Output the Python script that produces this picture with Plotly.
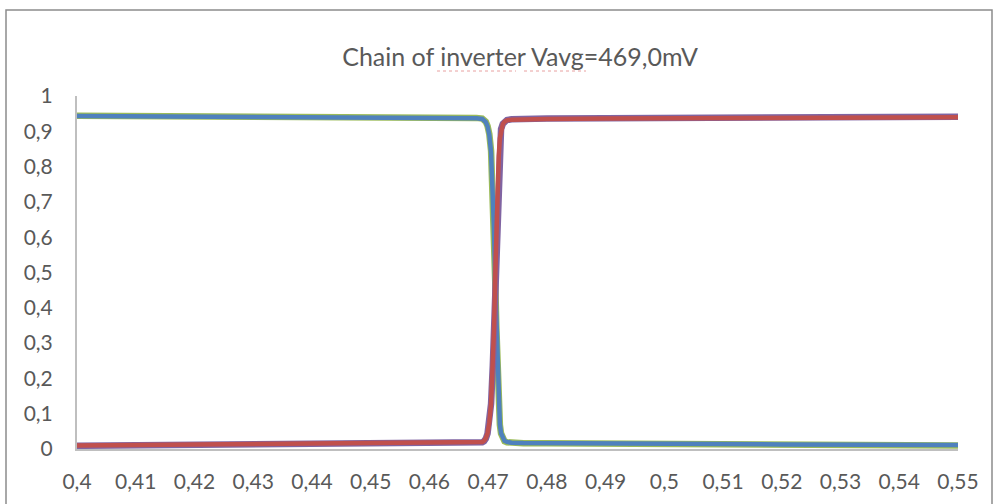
import plotly.graph_objects as go

# ---------------- data ----------------
x_vals = [0.400, 0.410, 0.420, 0.430, 0.440, 0.450, 0.460, 0.465, 0.468,
          0.4690, 0.4693, 0.4696, 0.4699, 0.4702, 0.4705, 0.4708, 0.4710,
          0.4712, 0.4714, 0.4716, 0.4718, 0.4720, 0.4722, 0.4725, 0.4728,
          0.4732, 0.4740, 0.4760, 0.480, 0.490, 0.500, 0.510, 0.520, 0.530,
          0.540, 0.550]

v_blue = [0.943, 0.9425, 0.942, 0.941, 0.940, 0.940, 0.939, 0.938, 0.937,
          0.935, 0.932, 0.926, 0.914, 0.890, 0.840, 0.720, 0.620,
          0.480, 0.350, 0.220, 0.120, 0.070, 0.045, 0.030, 0.023,
          0.020, 0.018, 0.017, 0.017, 0.016, 0.015, 0.014, 0.013, 0.013,
          0.012, 0.011]

v_green = [0.944, 0.9435, 0.943, 0.942, 0.941, 0.941, 0.940, 0.939, 0.938,
           0.936, 0.933, 0.927, 0.915, 0.892, 0.845, 0.725, 0.625,
           0.480, 0.345, 0.215, 0.118, 0.068, 0.044, 0.029, 0.022,
           0.019, 0.017, 0.016, 0.016, 0.015, 0.014, 0.013, 0.012, 0.012,
           0.011, 0.010]

v_red = [0.010, 0.011, 0.012, 0.013, 0.014, 0.015, 0.016, 0.017, 0.018,
         0.020, 0.023, 0.030, 0.045, 0.075, 0.130, 0.240, 0.340,
         0.480, 0.620, 0.740, 0.830, 0.880, 0.905, 0.920, 0.927,
         0.931, 0.933, 0.934, 0.935, 0.936, 0.937, 0.938, 0.938, 0.939,
         0.940, 0.940]

v_purple = [0.009, 0.010, 0.011, 0.012, 0.013, 0.014, 0.015, 0.016, 0.017,
            0.019, 0.022, 0.029, 0.044, 0.073, 0.128, 0.238, 0.340,
            0.480, 0.622, 0.742, 0.832, 0.882, 0.906, 0.921, 0.928,
            0.932, 0.934, 0.935, 0.936, 0.937, 0.938, 0.939, 0.939, 0.940,
            0.941, 0.941]

x_tick_vals = [0.40, 0.41, 0.42, 0.43, 0.44, 0.45, 0.46, 0.47, 0.48, 0.49,
               0.50, 0.51, 0.52, 0.53, 0.54, 0.55]
x_tick_labels = ["0,4", "0,41", "0,42", "0,43", "0,44", "0,45", "0,46", "0,47",
                 "0,48", "0,49", "0,5", "0,51", "0,52", "0,53", "0,54", "0,55"]
y_tick_vals = [0, 0.1, 0.2, 0.3, 0.4, 0.5, 0.6, 0.7, 0.8, 0.9, 1.0]
y_tick_labels = ["0", "0,1", "0,2", "0,3", "0,4", "0,5", "0,6", "0,7", "0,8", "0,9", "1"]

title_text = "Chain of inverter Vavg=469,0mV"

# ---------------- layout constants ----------------
W, H = 996, 504
ML, MR, MT, MB = 77, 38, 96, 55
PW, PH = W - ML - MR, H - MT - MB
FONT = "Lato"
TXT = "#595959"


def px_x(px):
    return (px - ML) / PW


def px_y(py):
    return (H - MB - py) / PH


fig = go.Figure()
fig.add_trace(go.Scatter(x=x_vals, y=v_green, mode="lines",
                         line=dict(color="#9BBB59", width=6.5), name="green"))
fig.add_trace(go.Scatter(x=x_vals, y=v_blue, mode="lines",
                         line=dict(color="#4F81BD", width=4.5), name="blue"))
fig.add_trace(go.Scatter(x=x_vals, y=v_purple, mode="lines",
                         line=dict(color="#8064A2", width=6.5), name="purple"))
fig.add_trace(go.Scatter(x=x_vals, y=v_red, mode="lines",
                         line=dict(color="#C0504D", width=4.5), name="red"))

shapes = [dict(type="rect", xref="paper", yref="paper",
               x0=px_x(6), x1=px_x(992), y0=px_y(520), y1=px_y(10),
               line=dict(color="#8C8C8C", width=1.5), fillcolor="rgba(0,0,0,0)",
               layer="below")]
# spell-check underlines under "inverter" and "Vavg"
for a, b in [(437, 516), (524, 586)]:
    shapes.append(dict(type="line", xref="paper", yref="paper",
                       x0=px_x(a), x1=px_x(b), y0=px_y(71), y1=px_y(71),
                       line=dict(color="#E8A0A0", width=1, dash="dot")))

fig.update_layout(
    width=W, height=H,
    margin=dict(l=ML, r=MR, t=MT, b=MB, pad=0),
    paper_bgcolor="white", plot_bgcolor="white",
    showlegend=False,
    font=dict(family=FONT, color=TXT, size=21),
    title=dict(text=title_text, x=px_x(520), xref="paper", xanchor="center",
               y=1 - 57 / H, yref="container", yanchor="middle",
               font=dict(family=FONT, size=25, color=TXT)),
    xaxis=dict(range=[0.4, 0.55], tickvals=x_tick_vals, ticktext=x_tick_labels,
               showgrid=False, zeroline=False, showline=True,
               linecolor="#BFBFBF", linewidth=2, ticks="",
               ticklabelstandoff=13, tickfont=dict(size=21, color=TXT, family=FONT)),
    yaxis=dict(range=[0, 1], tickvals=y_tick_vals, ticktext=y_tick_labels,
               showgrid=False, zeroline=False, showline=True,
               linecolor="#BFBFBF", linewidth=2, ticks="",
               ticklabelstandoff=18, tickfont=dict(size=21, color=TXT, family=FONT)),
    shapes=shapes,
)

fig.write_html("out.html", config={"displayModeBar": False},
               post_script="document.body.style.margin='0px';document.body.style.overflow='hidden';")
